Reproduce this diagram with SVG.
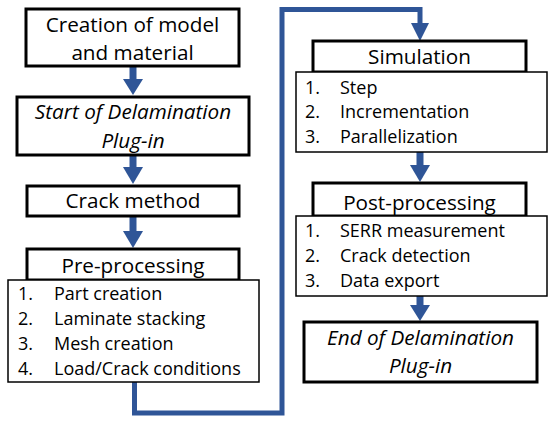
<svg xmlns="http://www.w3.org/2000/svg" width="550" height="422" viewBox="0 0 550 422">
<style>
.hb{fill:#fff;stroke:#000;stroke-width:3}
.lb{fill:#fff;stroke:#000;stroke-width:1.5}
.t{font-family:"Open Sans","Liberation Sans",sans-serif;font-size:20.7px;fill:#000;text-anchor:middle}
.i{font-style:italic}
.l{font-family:"Open Sans","Liberation Sans",sans-serif;font-size:18px;fill:#000}
.c{fill:none;stroke:#2F5597;stroke-width:5}
.s{fill:none;stroke:#2F5597;stroke-width:7}
.h{fill:#2F5597}
</style>
<rect width="550" height="422" fill="#fff"/>
<g id="connectors">
<line class="s" x1="133" y1="66" x2="133" y2="80"/><polygon class="h" points="123,79 143,79 133,95"/>
<line class="s" x1="133" y1="155" x2="133" y2="168"/><polygon class="h" points="123,167 143,167 133,184"/>
<line class="s" x1="133" y1="216" x2="133" y2="232"/><polygon class="h" points="123,231 143,231 133,248"/>
<polyline class="c" points="134.5,382 134.5,413 282,413 282,9.5 420,9.5 420,24"/><polygon class="h" points="411,23 429,23 420,41"/>
<line class="s" x1="420" y1="152" x2="420" y2="166"/><polygon class="h" points="410,165 430,165 420,182"/>
<line class="s" x1="420" y1="296" x2="420" y2="306"/><polygon class="h" points="410,305 430,305 420,321"/>
</g>
<g id="n1"><rect class="hb" x="26" y="9" width="213" height="57"/><text class="t" x="132.5" y="32">Creation of model</text><text class="t" x="132.5" y="60">and material</text></g>
<g id="n2"><rect class="hb" x="17" y="97" width="232" height="58"/><text class="t i" x="133" y="119">Start of Delamination</text><text class="t i" x="133" y="148">Plug-in</text></g>
<g id="n3"><rect class="hb" x="27" y="186" width="212" height="30"/><text class="t" x="133" y="208">Crack method</text></g>
<g id="n4"><rect class="hb" x="27" y="249" width="212" height="31"/><text class="t" x="133" y="273">Pre-processing</text>
<rect class="lb" x="8" y="280" width="251" height="102"/>
<text class="l" x="18" y="300">1.</text><text class="l" x="54" y="300">Part creation</text>
<text class="l" x="18" y="325">2.</text><text class="l" x="54" y="325">Laminate stacking</text>
<text class="l" x="18" y="350">3.</text><text class="l" x="54" y="350">Mesh creation</text>
<text class="l" x="18" y="375">4.</text><text class="l" x="54" y="375">Load/Crack conditions</text></g>
<g id="n5"><rect class="hb" x="313" y="41" width="213" height="31"/><text class="t" x="419.5" y="64">Simulation</text>
<rect class="lb" x="296" y="72" width="251" height="80"/>
<text class="l" x="305" y="94">1.</text><text class="l" x="340" y="94">Step</text>
<text class="l" x="305" y="118">2.</text><text class="l" x="340" y="118">Incrementation</text>
<text class="l" x="305" y="143">3.</text><text class="l" x="340" y="143">Parallelization</text></g>
<g id="n6"><rect class="hb" x="313" y="183" width="213" height="33"/><text class="t" x="419.5" y="210">Post-processing</text>
<rect class="lb" x="296" y="216" width="251" height="80"/>
<text class="l" x="305" y="237">1.</text><text class="l" x="340" y="237">SERR measurement</text>
<text class="l" x="305" y="262">2.</text><text class="l" x="340" y="262">Crack detection</text>
<text class="l" x="305" y="287">3.</text><text class="l" x="340" y="287">Data export</text></g>
<g id="n7"><rect class="hb" x="304" y="322" width="233" height="60"/><text class="t i" x="420.5" y="345">End of Delamination</text><text class="t i" x="420.5" y="373">Plug-in</text></g>
</svg>
